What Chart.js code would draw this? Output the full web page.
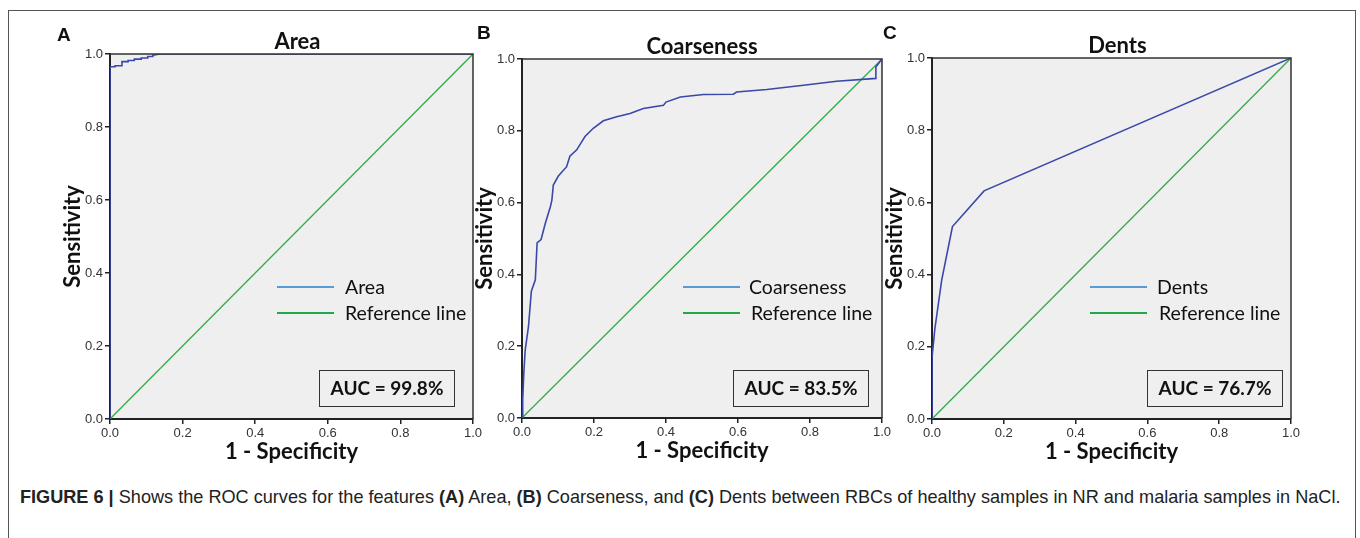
<!DOCTYPE html>
<html>
<head>
<meta charset="utf-8">
<script src="https://cdn.jsdelivr.net/npm/chart.js@4.4.0/dist/chart.umd.min.js"></script>
<style>
  body { margin: 0; background: #fff; width: 1360px; height: 538px; overflow: hidden; position: relative; font-family: Lato, sans-serif; }
  .frame { position: absolute; left: 8px; top: 10px; width: 1346px; height: 560px; border: 1px solid #555; }
  canvas { position: absolute; }
  .letter { position: absolute; font: bold 19px "Liberation Sans", Arial, sans-serif; color: #111; }
  .leg { position: absolute; font: 19.5px Lato, sans-serif; color: #111; white-space: nowrap; line-height: 22px; }
  .legline { position: absolute; height: 2px; width: 57px; }
  .auc { position: absolute; width: 136px; height: 37px; border: 1.5px solid #333; box-sizing: border-box;
         font: bold 19px Lato, sans-serif; color: #111; text-align: center; line-height: 34px; }
  .caption { position: absolute; left: 20px; top: 486px; font-family: "Liberation Sans", Arial, sans-serif;
             font-size: 19px; line-height: 22px; color: #222; white-space: nowrap; transform-origin: 0 50%; }
</style>
</head>
<body>
<div class="frame"></div>

<canvas id="chartA" width="463" height="435" style="left:60px;top:30px"></canvas>
<canvas id="chartB" width="460" height="429" style="left:472px;top:35px"></canvas>
<canvas id="chartC" width="459" height="431" style="left:882px;top:34px"></canvas>

<div class="letter" style="left:57px;top:24px">A</div>
<div class="letter" style="left:477px;top:22px">B</div>
<div class="letter" style="left:883px;top:22px">C</div>

<!-- legends -->
<div class="legline" style="left:277px;top:286px;background:#5b9bd5"></div>
<div class="leg" style="left:345px;top:276px">Area</div>
<div class="legline" style="left:277px;top:312px;background:#22a84a"></div>
<div class="leg" style="left:345px;top:302px">Reference line</div>

<div class="legline" style="left:683px;top:286px;background:#5b9bd5"></div>
<div class="leg" style="left:749px;top:276px">Coarseness</div>
<div class="legline" style="left:683px;top:312px;background:#22a84a"></div>
<div class="leg" style="left:751px;top:302px">Reference line</div>

<div class="legline" style="left:1090px;top:286px;background:#5b9bd5"></div>
<div class="leg" style="left:1157px;top:276px">Dents</div>
<div class="legline" style="left:1090px;top:312px;background:#22a84a"></div>
<div class="leg" style="left:1159px;top:302px">Reference line</div>

<div class="auc" id="aucA" style="left:319px;top:370px"></div>
<div class="auc" id="aucB" style="left:733px;top:370px"></div>
<div class="auc" id="aucC" style="left:1147px;top:370px"></div>

<div class="caption" id="caption"><b>FIGURE 6 |</b> Shows the ROC curves for the features <b>(A)</b> Area, <b>(B)</b> Coarseness, and <b>(C)</b> Dents between RBCs of healthy samples in NR and malaria samples in NaCl.</div>

<script>
// tick values / labels shared by every axis
const tickValues = [0, 0.2, 0.4, 0.6, 0.8, 1.0];
const tickLabels = ['0.0', '0.2', '0.4', '0.6', '0.8', '1.0'];

const panelTitles = ['Area', 'Coarseness', 'Dents'];
const aucLabels = ['AUC = 99.8%', 'AUC = 83.5%', 'AUC = 76.7%'];

// ROC curves (1 - specificity, sensitivity)
const areaFpr = [0, 0, 0.014, 0.014, 0.033, 0.033, 0.05, 0.05, 0.067, 0.067, 0.086, 0.086, 0.104, 0.104, 0.118, 0.118, 0.138, 1];
const areaTpr = [0, 0.965, 0.965, 0.968, 0.968, 0.979, 0.979, 0.982, 0.982, 0.986, 0.986, 0.989, 0.989, 0.993, 0.993, 0.997, 1.0, 1.0];

const coarseFpr = [0, 0.002, 0.005, 0.009, 0.018, 0.026, 0.037, 0.042, 0.053, 0.065, 0.079, 0.083, 0.087, 0.101, 0.124, 0.133, 0.152, 0.175, 0.198, 0.226, 0.263, 0.30, 0.337, 0.393, 0.40, 0.44, 0.504, 0.587, 0.596, 0.68, 0.782, 0.874, 0.983, 0.983, 1];
const coarseTpr = [0, 0.051, 0.125, 0.19, 0.255, 0.353, 0.385, 0.488, 0.497, 0.543, 0.589, 0.607, 0.649, 0.674, 0.70, 0.729, 0.747, 0.784, 0.807, 0.828, 0.839, 0.848, 0.862, 0.871, 0.88, 0.894, 0.901, 0.902, 0.908, 0.915, 0.927, 0.938, 0.946, 0.978, 1];

const dentsFpr = [0, 0, 0.008, 0.027, 0.057, 0.145, 1];
const dentsTpr = [0, 0.17, 0.25, 0.385, 0.533, 0.632, 1];

const refFpr = [0, 1];
const refTpr = [0, 1];

const toPoints = (xs, ys) => xs.map((x, i) => ({ x: x, y: ys[i] }));

// grey plot background + frame + title centred over the plot
const plotFrame = {
  id: 'plotFrame',
  beforeDraw(chart) {
    const { ctx, chartArea: a } = chart;
    ctx.save();
    ctx.fillStyle = '#efefef';
    ctx.fillRect(a.left, a.top, a.right - a.left, a.bottom - a.top);
    ctx.restore();
  },
  afterDatasetsDraw(chart) {
    const { ctx, chartArea: a } = chart;
    ctx.save();
    ctx.strokeStyle = '#333';
    ctx.lineWidth = 1.5;
    ctx.beginPath();
    ctx.moveTo(a.left, a.top);
    ctx.lineTo(a.right, a.top);
    ctx.lineTo(a.right, a.bottom);
    ctx.stroke();
    ctx.restore();
  },
  afterDraw(chart, args, opts) {
    const { ctx, chartArea: a } = chart;
    ctx.save();
    ctx.font = 'bold 22px Lato';
    ctx.fillStyle = '#111';
    ctx.textAlign = 'center';
    ctx.textBaseline = 'middle';
    ctx.fillText(opts.text, (a.left + a.right) / 2 + (opts.dx || 0), a.top - 12);
    ctx.restore();
  }
};

function axis(title, pos) {
  return {
    type: 'linear',
    position: pos,
    min: 0,
    max: 1,
    afterBuildTicks: s => { s.ticks = tickValues.map(v => ({ value: v })); },
    ticks: {
      callback: (v, i) => tickLabels[i],
      font: { family: 'Liberation Sans', size: 13 },
      color: '#333',
      padding: 2,
      maxRotation: 0,
      autoSkip: false
    },
    grid: { drawOnChartArea: false, drawTicks: true, tickLength: 5, color: '#222', lineWidth: 1.5 },
    border: { color: '#222', width: 2 },
    title: {
      display: true,
      text: title,
      font: { family: 'Lato', size: 22, weight: 'bold' },
      color: '#111',
      padding: { top: 0, bottom: 0 }
    },
    afterFit: s => { if (pos === 'left') s.width = 50; else s.height = 46; }
  };
}

function rocChart(id, title, fpr, tpr, dx) {
  new Chart(document.getElementById(id), {
    type: 'scatter',
    data: {
      datasets: [
        {
          label: 'Reference line',
          data: toPoints(refFpr, refTpr),
          showLine: true,
          borderColor: 'rgb(52,170,72)',
          borderWidth: 1.3,
          pointRadius: 0,
          order: 2
        },
        {
          label: title,
          data: toPoints(fpr, tpr),
          showLine: true,
          borderColor: 'rgb(58,72,170)',
          borderWidth: 1.6,
          pointRadius: 0,
          order: 1
        }
      ]
    },
    options: {
      responsive: false,
      animation: false,
      layout: { padding: { left: 0, right: 50, top: 24, bottom: 0 } },
      plugins: {
        legend: { display: false },
        tooltip: { enabled: false },
        plotFrame: { text: title, dx: dx }
      },
      scales: {
        x: axis('1 - Specificity', 'bottom'),
        y: axis('Sensitivity', 'left')
      }
    },
    plugins: [plotFrame]
  });
}

rocChart('chartA', panelTitles[0], areaFpr, areaTpr, 6);
rocChart('chartB', panelTitles[1], coarseFpr, coarseTpr, 0);
rocChart('chartC', panelTitles[2], dentsFpr, dentsTpr, 6);

document.getElementById('aucA').textContent = aucLabels[0];
document.getElementById('aucB').textContent = aucLabels[1];
document.getElementById('aucC').textContent = aucLabels[2];

// condensed caption: squeeze to the figure width
const cap = document.getElementById('caption');
cap.style.transform = 'scaleX(' + (1320 / cap.scrollWidth) + ')';
</script>
</body>
</html>
